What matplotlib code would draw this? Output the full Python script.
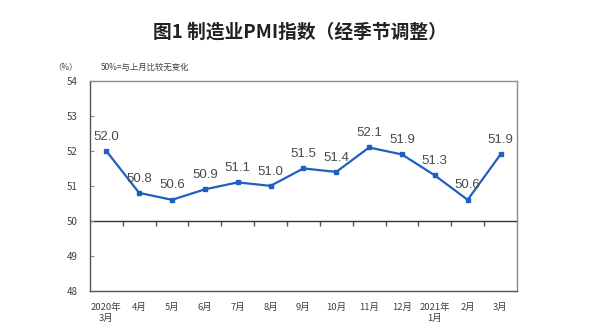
import matplotlib
matplotlib.use('Agg')
import matplotlib.pyplot as plt
import numpy as np

plt.rcParams['font.family'] = ['Noto Sans CJK SC', 'DejaVu Sans']

months = ['2020年\n3月', '4月', '5月', '6月', '7月', '8月', '9月', '10月',
          '11月', '12月', '2021年\n1月', '2月', '3月']
pmi = [52.0, 50.8, 50.6, 50.9, 51.1, 51.0, 51.5, 51.4, 52.1, 51.9, 51.3, 50.6, 51.9]
y_ticks = [48, 49, 50, 51, 52, 53, 54]

line_color = '#1f5fbf'
frame_color = '#8c8c8c'
text_color = '#404040'

fig = plt.figure(figsize=(5.99, 3.34), dpi=100)
ax = fig.add_axes([0.150, 0.130, 0.713, 0.627])

x = np.arange(len(pmi))
ax.plot(x, pmi, color=line_color, lw=1.6, marker='s', ms=3.2, zorder=3)
for xi, v in zip(x, pmi):
    ax.annotate(f'{v:.1f}', (xi, v), xytext=(0, 6), textcoords='offset points',
                ha='center', va='bottom', fontsize=9.5, color='#4a4a4a',
                family=['Liberation Sans', 'DejaVu Sans'])

ax.set_xlim(-0.5, len(pmi) - 0.5)
ax.set_ylim(48, 54)
ax.set_yticks(y_ticks)
ax.tick_params(axis='y', direction='in', length=3, width=0.8, color=frame_color,
               labelsize=7, labelcolor=text_color, pad=9)
ax.set_xticks(x)
ax.set_xticklabels(months, fontsize=6.8, color=text_color, linespacing=1.3)
ax.tick_params(axis='x', length=0, pad=9)
for s in ax.spines.values():
    s.set_color(frame_color)
    s.set_linewidth(1.0)
ax.spines['left'].set_color('#555555')
ax.spines['bottom'].set_color('#555555')

# 50 line with category boundary ticks
sec = ax.secondary_xaxis((50 - 48) / (54 - 48))
sec.spines['bottom'].set_color('#333333')
sec.spines['bottom'].set_linewidth(1.0)
sec.set_xticks(x[:-1] + 0.5)
sec.tick_params(axis='x', which='major', direction='out', length=3.5, width=1.0,
                color='#555555', labelbottom=False)

fig.text(0.5, 0.905, '图1 制造业PMI指数（经季节调整）', ha='center', va='center',
         fontsize=13.5, fontweight='bold', color='#222222')
fig.text(0.11, 0.80, '（%）', ha='center', va='center', fontsize=6, color=text_color)
fig.text(0.168, 0.80, '50%=与上月比较无变化', ha='left', va='center', fontsize=6,
         color=text_color)

fig.savefig('out.png', dpi=100)
